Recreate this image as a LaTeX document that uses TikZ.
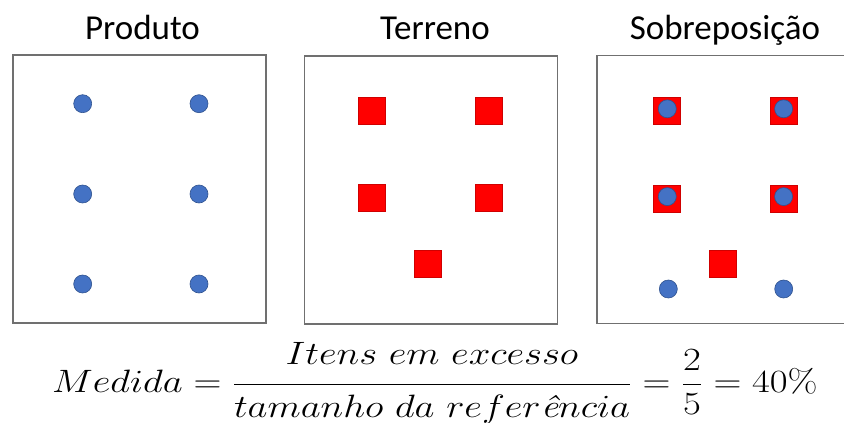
\documentclass[tikz,border=0pt]{standalone}
\usepackage{fontspec}
\usepackage{graphicx}
\newfontfamily\titlefont{Carlito}
\definecolor{dotblue}{HTML}{4472C4}
\definecolor{dotedge}{HTML}{2F528F}
\definecolor{sqred}{HTML}{FF0000}
\definecolor{sqedge}{HTML}{D00000}
\definecolor{boxgray}{HTML}{707070}
\tikzset{
  panel/.style={draw=boxgray, line width=1.6pt, fill=white, inner sep=0pt, minimum width=253pt, minimum height=268pt},
  dotn/.style={circle, fill=dotblue, draw=dotedge, line width=0.6pt, inner sep=0pt, minimum size=18pt},
  sqn/.style={rectangle, fill=sqred, draw=sqedge, line width=0.5pt, inner sep=0pt, minimum size=27pt},
  ttl/.style={font=\titlefont\fontsize{35}{40}\selectfont, anchor=base, inner sep=0pt}
}
\begin{document}
\begin{tikzpicture}[x=1pt,y=-1pt]
\useasboundingbox (0,0) rectangle (844,423);
\clip (0,0) rectangle (844,423);
\fill[white] (0,0) rectangle (844,423);
% titles
\node[ttl] (t1) at (142.5,39) {Produto};
\node[ttl] (t2) at (435,39) {Terreno};
\node[ttl] (t3) at (725,39) {Sobreposição};
% panels
\node[panel] (p1) at (139.5,189) {};
\node[panel] (p2) at (431,189.7) {};
\node[panel] (p3) at (723.5,189.5) {};
% panel 1 dots
\node[dotn] (a1) at (82.7,103.7) {};
\node[dotn] (a2) at (199,103.7) {};
\node[dotn] (a3) at (82.7,194) {};
\node[dotn] (a4) at (199,194) {};
\node[dotn] (a5) at (82.7,284) {};
\node[dotn] (a6) at (199,284) {};
% panel 2 squares
\node[sqn] (b1) at (372,110.3) {};
\node[sqn] (b2) at (488.5,110.3) {};
\node[sqn] (b3) at (372,198) {};
\node[sqn] (b4) at (488.5,198) {};
\node[sqn] (b5) at (428,263.3) {};
% panel 3
\node[sqn] (c1) at (667,110.6) {};
\node[sqn] (c2) at (784,110.6) {};
\node[sqn] (c3) at (667,198.4) {};
\node[sqn] (c4) at (784,198.4) {};
\node[sqn] (c5) at (723,264) {};
\node[dotn] (d1) at (667.3,108.8) {};
\node[dotn] (d2) at (783.6,108.8) {};
\node[dotn] (d3) at (667.3,196.6) {};
\node[dotn] (d4) at (783.6,196.6) {};
\node[dotn] (d5) at (668.3,289) {};
\node[dotn] (d6) at (783.7,289) {};
% formula
\node[anchor=base west, inner sep=0pt] (f) at (52,392.7)
  {\scalebox{1.557}[1.3]{\fontsize{24.88}{30}\selectfont $\displaystyle Medida = \frac{\raisebox{4.5pt}{$Itens\ em\ excesso$}}{\raisebox{-2pt}{$tamanho\ da\ refer\mbox{\itshape ê}ncia$}} = \frac{2}{5} = 40\%$}};
\end{tikzpicture}
\end{document}
